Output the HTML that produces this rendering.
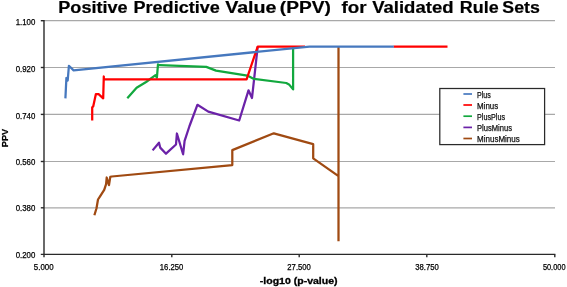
<!DOCTYPE html>
<html><head><meta charset="utf-8"><style>
html,body{margin:0;padding:0;background:#fff;width:567px;height:287px;overflow:hidden}
svg{display:block;will-change:transform}
text{font-family:"Liberation Sans",sans-serif}
</style></head><body>
<svg width="567" height="287" viewBox="0 0 567 287">
<rect width="567" height="287" fill="#fff"/>
<!-- title -->
<g font-weight="bold" font-size="15.8" fill="#000" stroke="#000" stroke-width="0.2">
<text x="58.3" y="12.8" textLength="69.3" lengthAdjust="spacingAndGlyphs">Positive</text>
<text x="133.5" y="12.8" textLength="86.3" lengthAdjust="spacingAndGlyphs">Predictive</text>
<text x="225.2" y="12.8" textLength="51.3" lengthAdjust="spacingAndGlyphs">Value</text>
<text x="279.8" y="12.8" textLength="51" lengthAdjust="spacingAndGlyphs">(PPV)</text>
<text x="341.5" y="12.8" textLength="25" lengthAdjust="spacingAndGlyphs">for</text>
<text x="372.2" y="12.8" textLength="81.3" lengthAdjust="spacingAndGlyphs">Validated</text>
<text x="459.8" y="12.8" textLength="38.8" lengthAdjust="spacingAndGlyphs">Rule</text>
<text x="502.3" y="12.8" textLength="37.5" lengthAdjust="spacingAndGlyphs">Sets</text>
</g>
<!-- gridlines -->
<g stroke="#a8a8a8" stroke-width="1.2">
<line x1="44" y1="20.7" x2="555" y2="20.7"/>
<line x1="44" y1="67.5" x2="555" y2="67.5"/>
<line x1="44" y1="114.4" x2="555" y2="114.4"/>
<line x1="44" y1="161.5" x2="555" y2="161.5"/>
<line x1="44" y1="207.8" x2="555" y2="207.8"/>
</g>
<!-- axes -->
<g stroke="#2a2a2a" stroke-width="1.4">
<line x1="44" y1="20" x2="44" y2="257.3"/>
<line x1="40.8" y1="254.4" x2="555.4" y2="254.4"/>
<line x1="40.8" y1="20.7" x2="44" y2="20.7"/>
<line x1="40.8" y1="67.5" x2="44" y2="67.5"/>
<line x1="40.8" y1="114.4" x2="44" y2="114.4"/>
<line x1="40.8" y1="161.5" x2="44" y2="161.5"/>
<line x1="40.8" y1="207.8" x2="44" y2="207.8"/>
<line x1="171.8" y1="254.4" x2="171.8" y2="257.3"/>
<line x1="299.2" y1="254.4" x2="299.2" y2="257.3"/>
<line x1="426.8" y1="254.4" x2="426.8" y2="257.3"/>
<line x1="554.8" y1="254.4" x2="554.8" y2="257.3"/>
</g>
<!-- y tick labels -->
<g font-size="8.8" fill="#000" stroke="#000" stroke-width="0.25" text-anchor="end">
<text x="35.3" y="24.6" textLength="19.6" lengthAdjust="spacingAndGlyphs">1.100</text>
<text x="35.3" y="71.8" textLength="19.6" lengthAdjust="spacingAndGlyphs">0.920</text>
<text x="35.3" y="118.5" textLength="19.6" lengthAdjust="spacingAndGlyphs">0.740</text>
<text x="35.3" y="165.3" textLength="19.6" lengthAdjust="spacingAndGlyphs">0.560</text>
<text x="35.3" y="211.3" textLength="19.6" lengthAdjust="spacingAndGlyphs">0.380</text>
<text x="35.3" y="257.9" textLength="19.6" lengthAdjust="spacingAndGlyphs">0.200</text>
</g>
<!-- x tick labels -->
<g font-size="8.8" fill="#000" stroke="#000" stroke-width="0.25" text-anchor="middle">
<text x="43.7" y="269.6" textLength="19.7" lengthAdjust="spacingAndGlyphs">5.000</text>
<text x="171.6" y="269.6" textLength="23.5" lengthAdjust="spacingAndGlyphs">16.250</text>
<text x="299.1" y="269.6" textLength="23.5" lengthAdjust="spacingAndGlyphs">27.500</text>
<text x="427" y="269.6" textLength="23.5" lengthAdjust="spacingAndGlyphs">38.750</text>
<text x="554.2" y="269.6" textLength="22.6" lengthAdjust="spacingAndGlyphs">50.000</text>
</g>
<!-- axis titles -->
<text x="259.8" y="284.2" font-size="9.2" font-weight="bold" stroke="#000" stroke-width="0.3" textLength="77.8" lengthAdjust="spacingAndGlyphs">-log10 (p-value)</text>
<text transform="translate(7.7,147.2) rotate(-90)" x="0" y="0" font-size="8.8" font-weight="bold" stroke="#000" stroke-width="0.2" textLength="18.3" lengthAdjust="spacingAndGlyphs">PPV</text>
<!-- series: bottom to top -->
<g fill="none" stroke-width="2.25" stroke-linejoin="round" stroke-linecap="butt">
<polyline stroke="#A04A12" points="94.4,215.3 96.5,208.3 98,199.5 99.9,196.6 104.2,189.9 106.1,184.2 106.7,177.5 109,185.1 110.3,176.9 111.8,176.5 232.3,165.1 232.3,150.1 273.8,133.3 313.2,144.2 313.2,158.3 338.5,176.2 338.5,47.5 338.5,241.3"/>
<polyline stroke="#6B22A8" points="152.6,150.4 159,142.7 160.2,147.6 166,153.7 176,144.5 176.9,133.5 183.1,154.3 184.6,140.9 189.5,126 197.4,104.8 208.3,111.6 239.2,120.5 248.5,90.3 252,98 257.7,46.6"/>
<polyline stroke="#12A83E" points="127.3,98.2 136.6,87.8 146.1,82 155.5,75.2 156.9,77.6 158,64.4 159.5,65.2 206.3,66.9 216,70.6 247.3,75.6 253.9,78.9 286.3,83 289,84.4 293.1,89.4 293.1,47"/>
<polyline stroke="#FF0000" points="92.2,120.5 92.2,107.3 93.2,106.4 95.9,94.1 98.6,94.1 103.2,98.3 103.8,76.5 103.8,79.3 246.6,79.3 257.7,46.6 305,46.6"/>
<line stroke="#FF0000" x1="393.6" y1="46.6" x2="447.5" y2="46.6"/>
<polyline stroke="#4678BE" points="65.4,98.4 66.4,78 67.7,80.5 68.9,65.8 73.6,70.4 309.5,46.6 393.8,46.6"/>
</g>
<!-- legend -->
<rect x="439.8" y="88.5" width="104.8" height="56.1" fill="#fff" stroke="#2a2a2a" stroke-width="1.25"/>
<g stroke-width="1.7">
<line x1="463.4" y1="94" x2="472" y2="94" stroke="#4678BE"/>
<line x1="463.4" y1="105" x2="472" y2="105" stroke="#FF0000"/>
<line x1="463.4" y1="116.2" x2="472" y2="116.2" stroke="#12A83E"/>
<line x1="463.4" y1="127.4" x2="472" y2="127.4" stroke="#6B22A8"/>
<line x1="463.4" y1="138.5" x2="472" y2="138.5" stroke="#A04A12"/>
</g>
<g font-size="8.6" fill="#111" stroke="#111" stroke-width="0.25">
<text x="477" y="97.7" textLength="13.8" lengthAdjust="spacingAndGlyphs">Plus</text>
<text x="477" y="108.8" textLength="21.2" lengthAdjust="spacingAndGlyphs">Minus</text>
<text x="477" y="119.9" textLength="28" lengthAdjust="spacingAndGlyphs">PlusPlus</text>
<text x="477" y="131" textLength="35" lengthAdjust="spacingAndGlyphs">PlusMinus</text>
<text x="477" y="142.1" textLength="42.8" lengthAdjust="spacingAndGlyphs">MinusMinus</text>
</g>
</svg>
</body></html>
